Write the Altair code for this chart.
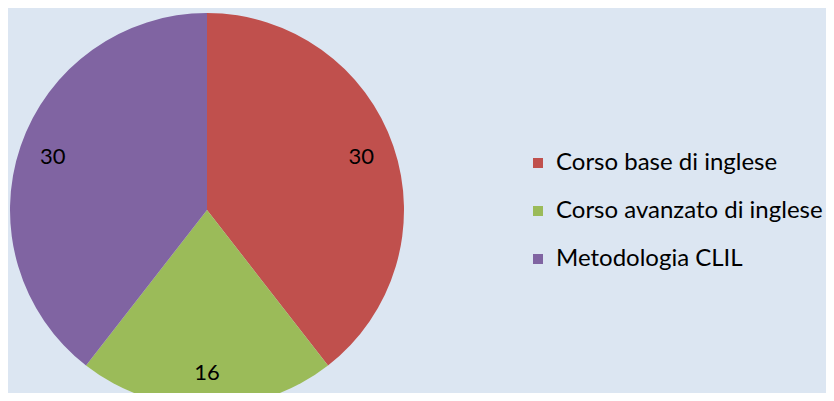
import altair as alt
import pandas as pd

categories = ["Corso base di inglese", "Corso avanzato di inglese", "Metodologia CLIL"]
values = [30, 16, 30]
colors = ["#C0504D", "#9BBB59", "#8064A2"]

df = pd.DataFrame({"cat": categories, "val": values, "ord": list(range(len(categories)))})

base = alt.Chart(df).encode(
    theta=alt.Theta("val:Q", stack=True),
    order=alt.Order("ord:O"),
    x=alt.value(199),
    y=alt.value(202),
)

arc = base.mark_arc(radius=197, stroke=None).encode(
    color=alt.Color(
        "cat:N",
        scale=alt.Scale(domain=categories, range=colors),
        sort=categories,
        legend=alt.Legend(
            title=None,
            orient="none",
            legendX=518,
            legendY=143,
            symbolType="square",
            symbolSize=100,
            symbolStrokeWidth=0,
            labelFont="Lato",
            labelFontSize=24,
            labelColor="#000000",
            rowPadding=24,
            labelOffset=6,
            labelLimit=400,
        ),
    )
)

text = base.mark_text(radius=163, font="Lato", fontSize=22, color="#000000").encode(
    text=alt.Text("val:Q")
)

chart = (arc + text).properties(
    width=818,
    height=385,
    padding=0,
    autosize=alt.AutoSizeParams(type="none"),
    background="#DCE6F2",
).configure_view(stroke=None)

chart.save("out.html", embed_options={"renderer": "svg", "actions": False})
